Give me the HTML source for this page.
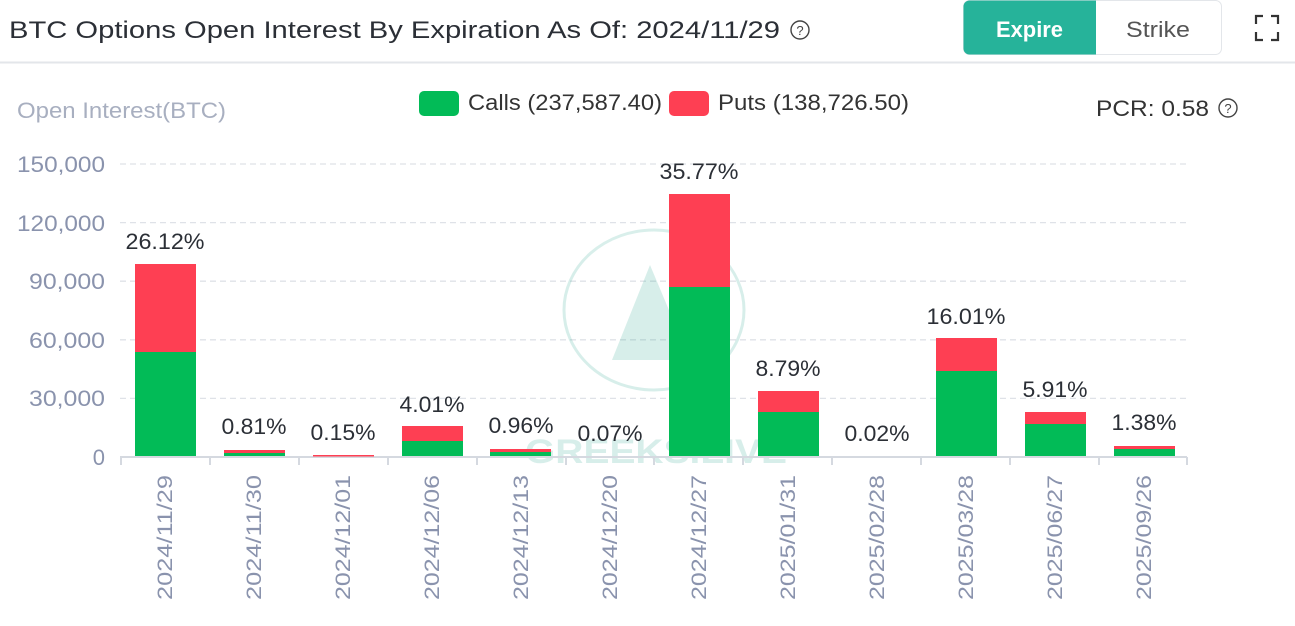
<!DOCTYPE html>
<html><head><meta charset="utf-8"><style>
body{margin:0;width:1295px;height:621px;background:#fff;overflow:hidden;font-family:"Liberation Sans",sans-serif}
</style></head><body>
<svg width="1295" height="621" xmlns="http://www.w3.org/2000/svg" font-family="Liberation Sans, sans-serif">
<text x="9" y="38" font-size="24" fill="#2b2f36" textLength="771" lengthAdjust="spacingAndGlyphs">BTC Options Open Interest By Expiration As Of: 2024/11/29</text>
<circle cx="800" cy="30" r="9" fill="none" stroke="#444" stroke-width="1.4"/>
<text x="800" y="35" font-size="13" fill="#444" text-anchor="middle">?</text>
<rect x="963.5" y="0.5" width="258" height="54" rx="6" fill="#fff" stroke="#e3e6ea"/>
<path d="M969.5 0.5 H1096 V54.5 H969.5 A6 6 0 0 1 963.5 48.5 V6.5 A6 6 0 0 1 969.5 0.5Z" fill="#26b39a"/>
<text x="996" y="37" font-size="22" fill="#fff" font-weight="bold" textLength="67" lengthAdjust="spacingAndGlyphs">Expire</text>
<text x="1126" y="37" font-size="22" fill="#555" textLength="64" lengthAdjust="spacingAndGlyphs">Strike</text>
<path d="M1256 24v-8h7M1271 16h7v8M1278 32v8h-7M1263 40h-7v-8" fill="none" stroke="#333" stroke-width="2.2"/>
<line x1="0" y1="62.5" x2="1295" y2="62.5" stroke="#e3e6ea" stroke-width="2"/>
<text x="17" y="118" font-size="22" fill="#a8afc0" textLength="209" lengthAdjust="spacingAndGlyphs">Open Interest(BTC)</text>
<rect x="419" y="91" width="40" height="25" rx="5" fill="#02bb57"/>
<text x="468" y="110" font-size="22" fill="#333" textLength="194" lengthAdjust="spacingAndGlyphs">Calls (237,587.40)</text>
<rect x="669" y="91" width="40" height="25" rx="5" fill="#fe3f53"/>
<text x="718" y="110" font-size="22" fill="#333" textLength="191" lengthAdjust="spacingAndGlyphs">Puts (138,726.50)</text>
<text x="1096" y="116" font-size="22" fill="#333" textLength="113" lengthAdjust="spacingAndGlyphs">PCR: 0.58</text>
<circle cx="1228" cy="108" r="9" fill="none" stroke="#444" stroke-width="1.4"/>
<text x="1228" y="113" font-size="13" fill="#444" text-anchor="middle">?</text>
<g stroke="#dfe2e8" stroke-dasharray="6,4" stroke-width="1.3">
<line x1="120" y1="164" x2="1187" y2="164"/><line x1="120" y1="222.6" x2="1187" y2="222.6"/>
<line x1="120" y1="281.2" x2="1187" y2="281.2"/><line x1="120" y1="339.8" x2="1187" y2="339.8"/>
<line x1="120" y1="398.4" x2="1187" y2="398.4"/></g>
<g font-size="22" fill="#8a93ad" text-anchor="end">
<text x="105" y="172" textLength="88" lengthAdjust="spacingAndGlyphs">150,000</text><text x="105" y="231" textLength="88" lengthAdjust="spacingAndGlyphs">120,000</text><text x="105" y="289" textLength="76" lengthAdjust="spacingAndGlyphs">90,000</text>
<text x="105" y="348" textLength="76" lengthAdjust="spacingAndGlyphs">60,000</text><text x="105" y="406" textLength="76" lengthAdjust="spacingAndGlyphs">30,000</text><text x="105" y="465">0</text></g>
<g opacity="0.18" fill="#2aa58e" stroke="#2aa58e">
<ellipse cx="654" cy="310" rx="90" ry="80" fill="none" stroke-width="3"/>
<path d="M612 360 L650 265 L690 360Z" stroke="none"/>
<text x="525" y="463" font-size="34" font-weight="bold" stroke="none" textLength="262" lengthAdjust="spacingAndGlyphs">GREEKS.LIVE</text></g>
<line x1="120" y1="457" x2="1187" y2="457" stroke="#d5d9e0" stroke-width="2"/>
<g stroke="#d5d9e0" stroke-width="2">
<line x1="121" y1="457" x2="121" y2="465"/><line x1="210" y1="457" x2="210" y2="465"/><line x1="299" y1="457" x2="299" y2="465"/>
<line x1="388" y1="457" x2="388" y2="465"/><line x1="477" y1="457" x2="477" y2="465"/><line x1="566" y1="457" x2="566" y2="465"/>
<line x1="654" y1="457" x2="654" y2="465"/><line x1="743" y1="457" x2="743" y2="465"/><line x1="832" y1="457" x2="832" y2="465"/>
<line x1="921" y1="457" x2="921" y2="465"/><line x1="1010" y1="457" x2="1010" y2="465"/><line x1="1099" y1="457" x2="1099" y2="465"/>
<line x1="1187" y1="457" x2="1187" y2="465"/></g>
<g>
<rect x="135" y="264" width="61" height="88" fill="#fe3f53"/><rect x="135" y="352" width="61" height="104" fill="#02bb57"/>
<rect x="224" y="450" width="61" height="3" fill="#fe3f53"/><rect x="224" y="453" width="61" height="3" fill="#02bb57"/>
<rect x="313" y="455" width="61" height="1.5" fill="#fe3f53"/>
<rect x="402" y="426" width="61" height="15" fill="#fe3f53"/><rect x="402" y="441" width="61" height="15" fill="#02bb57"/>
<rect x="490" y="449" width="61" height="3" fill="#fe3f53"/><rect x="490" y="452" width="61" height="4" fill="#02bb57"/>
<rect x="669" y="194" width="61" height="93" fill="#fe3f53"/><rect x="669" y="287" width="61" height="169" fill="#02bb57"/>
<rect x="758" y="391" width="61" height="21" fill="#fe3f53"/><rect x="758" y="412" width="61" height="44" fill="#02bb57"/>
<rect x="936" y="338" width="61" height="33" fill="#fe3f53"/><rect x="936" y="371" width="61" height="85" fill="#02bb57"/>
<rect x="1025" y="412" width="61" height="12" fill="#fe3f53"/><rect x="1025" y="424" width="61" height="32" fill="#02bb57"/>
<rect x="1114" y="446" width="61" height="3" fill="#fe3f53"/><rect x="1114" y="449" width="61" height="7" fill="#02bb57"/>
</g>
<g font-size="22" fill="#2b2f36" text-anchor="middle" lengthAdjust="spacingAndGlyphs">
<text x="165" y="249" textLength="79" lengthAdjust="spacingAndGlyphs">26.12%</text><text x="254" y="434" textLength="65" lengthAdjust="spacingAndGlyphs">0.81%</text><text x="343" y="440" textLength="65" lengthAdjust="spacingAndGlyphs">0.15%</text>
<text x="432" y="412" textLength="65" lengthAdjust="spacingAndGlyphs">4.01%</text><text x="521" y="433" textLength="65" lengthAdjust="spacingAndGlyphs">0.96%</text><text x="610" y="441" textLength="65" lengthAdjust="spacingAndGlyphs">0.07%</text>
<text x="699" y="179" textLength="79" lengthAdjust="spacingAndGlyphs">35.77%</text><text x="788" y="376" textLength="65" lengthAdjust="spacingAndGlyphs">8.79%</text><text x="877" y="441" textLength="65" lengthAdjust="spacingAndGlyphs">0.02%</text>
<text x="966" y="324" textLength="79" lengthAdjust="spacingAndGlyphs">16.01%</text><text x="1055" y="397" textLength="65" lengthAdjust="spacingAndGlyphs">5.91%</text><text x="1144" y="430" textLength="65" lengthAdjust="spacingAndGlyphs">1.38%</text></g>
<g font-size="21" fill="#8a93ad" text-anchor="end">
<text transform="translate(172,475) rotate(-90)" textLength="125" lengthAdjust="spacingAndGlyphs">2024/11/29</text>
<text transform="translate(261,475) rotate(-90)" textLength="125" lengthAdjust="spacingAndGlyphs">2024/11/30</text>
<text transform="translate(350,475) rotate(-90)" textLength="125" lengthAdjust="spacingAndGlyphs">2024/12/01</text>
<text transform="translate(439,475) rotate(-90)" textLength="125" lengthAdjust="spacingAndGlyphs">2024/12/06</text>
<text transform="translate(528,475) rotate(-90)" textLength="125" lengthAdjust="spacingAndGlyphs">2024/12/13</text>
<text transform="translate(617,475) rotate(-90)" textLength="125" lengthAdjust="spacingAndGlyphs">2024/12/20</text>
<text transform="translate(706,475) rotate(-90)" textLength="125" lengthAdjust="spacingAndGlyphs">2024/12/27</text>
<text transform="translate(795,475) rotate(-90)" textLength="125" lengthAdjust="spacingAndGlyphs">2025/01/31</text>
<text transform="translate(884,475) rotate(-90)" textLength="125" lengthAdjust="spacingAndGlyphs">2025/02/28</text>
<text transform="translate(973,475) rotate(-90)" textLength="125" lengthAdjust="spacingAndGlyphs">2025/03/28</text>
<text transform="translate(1062,475) rotate(-90)" textLength="125" lengthAdjust="spacingAndGlyphs">2025/06/27</text>
<text transform="translate(1151,475) rotate(-90)" textLength="125" lengthAdjust="spacingAndGlyphs">2025/09/26</text></g>
</svg>
</body></html>
